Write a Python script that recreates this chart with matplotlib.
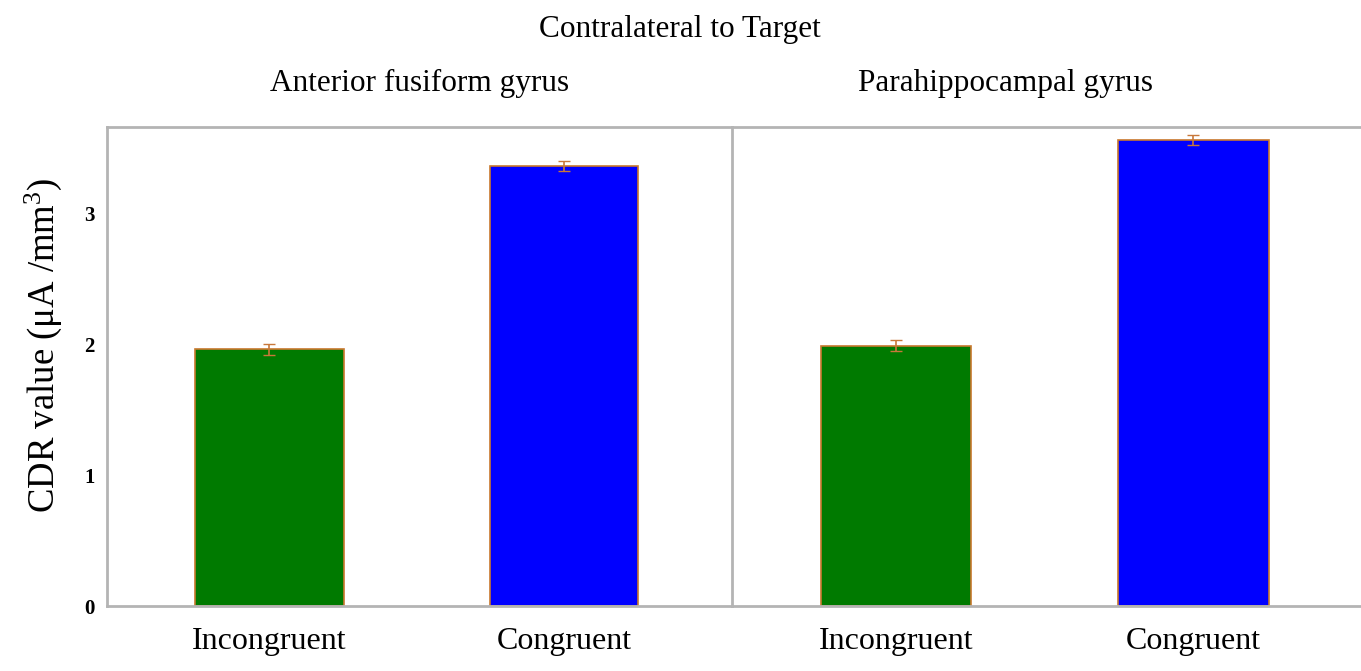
import matplotlib
matplotlib.use("Agg")
import matplotlib.pyplot as plt

# values
conditions = ["Incongruent", "Congruent"]
regions = ["Anterior fusiform gyrus", "Parahippocampal gyrus"]
afg_values = [1.96, 3.36]
afg_errors = [0.04, 0.04]
phg_values = [1.99, 3.56]
phg_errors = [0.04, 0.04]
bar_colors = ["#007a00", "#0000ff"]

plt.rcParams['font.family'] = ['Liberation Serif', 'DejaVu Serif']
plt.rcParams['mathtext.fontset'] = 'custom'
plt.rcParams['mathtext.rm'] = 'Liberation Serif'
plt.rcParams['mathtext.it'] = 'Liberation Serif:italic'

fig = plt.figure(figsize=(13.61, 6.71), dpi=100)
W, H = 1361, 671
ax_l = fig.add_axes([107 / W, 1 - 606 / H, 625 / W, 479 / H])
ax_r = fig.add_axes([732 / W, 1 - 606 / H, 640 / W, 479 / H])

spine_col = "#b4b4b4"
for ax, vals, errs in [(ax_l, afg_values, afg_errors), (ax_r, phg_values, phg_errors)]:
    x = range(len(conditions))
    ax.bar(x, vals, width=0.505, color=bar_colors, edgecolor="#c8782e", linewidth=1.2)
    ax.errorbar(x, vals, yerr=errs, fmt="none", ecolor="#c8783a", elinewidth=1.2, capsize=4.5)
    ax.set_ylim(0, 3.66)
    ax.set_xticks(list(x))
    ax.set_xticklabels(conditions, fontsize=23)
    ax.tick_params(length=0, pad=15)
    for s in ax.spines.values():
        s.set_color(spine_col)
        s.set_linewidth(2)

ax_l.set_xlim(-0.55, 1.57)
ax_r.set_xlim(-0.55, 1.60)
ax_l.set_title(regions[0], fontsize=22.5, pad=26)
ax_r.set_title(regions[1], fontsize=22.5, pad=26, x=(1006 - 732) / 640)

ax_l.set_yticks([0, 1, 2, 3])
ax_l.set_yticklabels(["0", "1", "2", "3"], fontsize=15, fontweight="bold")
ax_l.tick_params(axis="y", pad=9)
ax_l.spines["right"].set_visible(False)
ax_r.set_yticks([])
ax_l.set_ylabel("CDR value (μA /mm$^3$)", fontsize=26.5)
ax_l.yaxis.set_label_coords(-0.068, (606 - 345) / 479)

fig.text(680 / W, 1 - 29 / H, "Contralateral to Target", ha="center", va="center", fontsize=22.5)

fig.savefig("out.png", dpi=100)
